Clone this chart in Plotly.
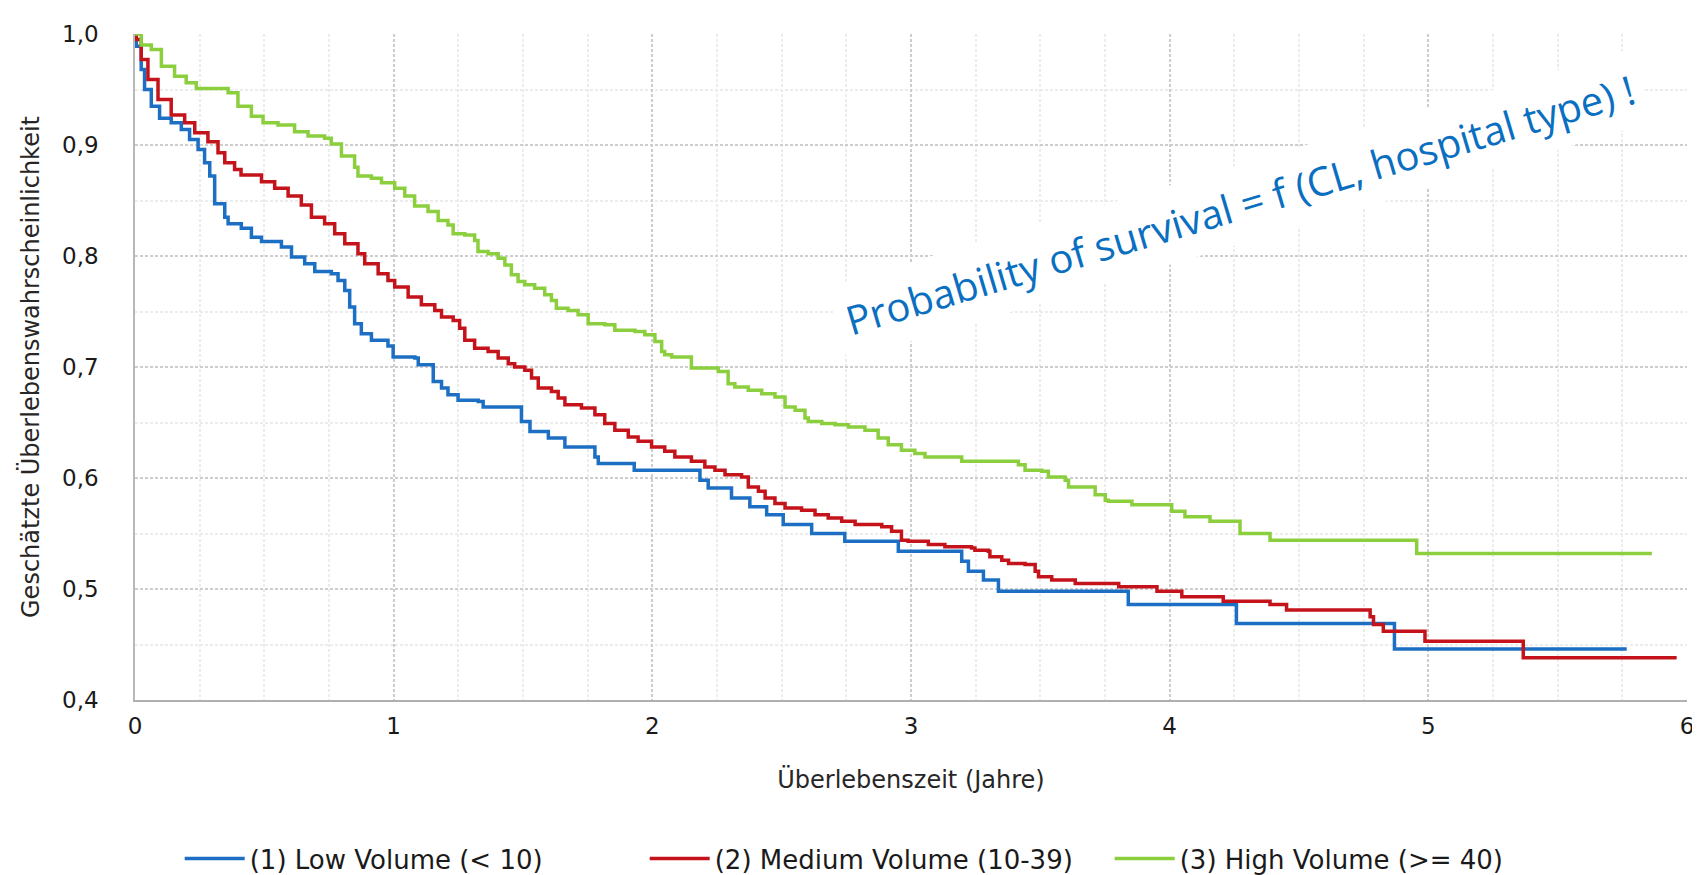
import plotly.graph_objects as go

# ---------------- data ----------------
low_t = [0.000, 0.005, 0.024, 0.037, 0.063, 0.095, 0.140, 0.179, 0.211, 0.244, 0.269, 0.289,
         0.308, 0.347, 0.360, 0.411, 0.450, 0.489, 0.566, 0.605, 0.656, 0.695, 0.759, 0.785,
         0.811, 0.830, 0.849, 0.875, 0.914, 0.978, 0.998, 1.082, 1.095, 1.153, 1.185, 1.210,
         1.249, 1.327, 1.346, 1.494, 1.527, 1.598, 1.662, 1.778, 1.791, 1.930, 2.184, 2.216,
         2.306, 2.377, 2.442, 2.506, 2.616, 2.744, 2.951, 3.196, 3.222, 3.280, 3.338, 3.840,
         4.258, 4.869, 5.767]
low_s = [1.000, 0.989, 0.968, 0.950, 0.935, 0.924, 0.920, 0.914, 0.905, 0.896, 0.884, 0.872,
         0.847, 0.835, 0.829, 0.825, 0.817, 0.813, 0.808, 0.799, 0.793, 0.786, 0.784, 0.778,
         0.769, 0.754, 0.739, 0.730, 0.724, 0.719, 0.709, 0.708, 0.702, 0.687, 0.681, 0.675,
         0.670, 0.669, 0.664, 0.651, 0.642, 0.636, 0.628, 0.619, 0.613, 0.607, 0.598, 0.591,
         0.582, 0.574, 0.567, 0.558, 0.550, 0.543, 0.534, 0.525, 0.516, 0.508, 0.498, 0.486,
         0.469, 0.446, 0.446]

med_t = [0.000, 0.005, 0.024, 0.050, 0.089, 0.140, 0.192, 0.231, 0.282, 0.321, 0.347, 0.385,
         0.410, 0.489, 0.540, 0.592, 0.643, 0.682, 0.733, 0.772, 0.811, 0.862, 0.888, 0.940,
         0.978, 1.004, 1.056, 1.107, 1.159, 1.185, 1.230, 1.255, 1.275, 1.313, 1.365, 1.404,
         1.443, 1.468, 1.507, 1.533, 1.559, 1.610, 1.636, 1.662, 1.726, 1.778, 1.816, 1.855,
         1.907, 1.945, 1.997, 2.048, 2.087, 2.151, 2.203, 2.242, 2.281, 2.345, 2.371, 2.410,
         2.436, 2.474, 2.513, 2.577, 2.629, 2.680, 2.732, 2.784, 2.887, 2.925, 2.963, 2.989,
         3.067, 3.131, 3.234, 3.247, 3.299, 3.305, 3.351, 3.377, 3.441, 3.480, 3.493, 3.544,
         3.635, 3.803, 3.951, 4.047, 4.207, 4.388, 4.452, 4.775, 4.788, 4.826, 4.987, 5.367,
         5.960]
med_s = [1.000, 0.995, 0.977, 0.959, 0.941, 0.927, 0.920, 0.911, 0.903, 0.893, 0.884, 0.878,
         0.873, 0.867, 0.861, 0.854, 0.846, 0.835, 0.829, 0.820, 0.811, 0.802, 0.793, 0.784,
         0.778, 0.772, 0.763, 0.756, 0.751, 0.745, 0.742, 0.735, 0.724, 0.717, 0.714, 0.708,
         0.703, 0.700, 0.697, 0.690, 0.681, 0.678, 0.672, 0.666, 0.663, 0.657, 0.649, 0.643,
         0.637, 0.633, 0.628, 0.624, 0.619, 0.615, 0.610, 0.607, 0.603, 0.601, 0.592, 0.588,
         0.582, 0.577, 0.573, 0.571, 0.567, 0.564, 0.561, 0.558, 0.556, 0.552, 0.544, 0.543,
         0.540, 0.538, 0.537, 0.535, 0.534, 0.529, 0.526, 0.523, 0.522, 0.516, 0.511, 0.508,
         0.505, 0.502, 0.498, 0.493, 0.489, 0.486, 0.481, 0.475, 0.468, 0.462, 0.453, 0.438,
         0.438]

high_t = [0.000, 0.024, 0.063, 0.102, 0.153, 0.198, 0.237, 0.360, 0.398, 0.450, 0.495, 0.553,
          0.617, 0.669, 0.733, 0.759, 0.798, 0.849, 0.862, 0.914, 0.953, 1.004, 1.043, 1.081,
          1.133, 1.172, 1.210, 1.230, 1.275, 1.313, 1.326, 1.365, 1.404, 1.430, 1.455, 1.481,
          1.507, 1.545, 1.584, 1.610, 1.629, 1.674, 1.713, 1.752, 1.816, 1.855, 1.933, 1.971,
          2.010, 2.036, 2.048, 2.075, 2.151, 2.255, 2.293, 2.319, 2.371, 2.423, 2.474, 2.513,
          2.552, 2.590, 2.603, 2.655, 2.707, 2.758, 2.822, 2.873, 2.912, 2.963, 3.015, 3.054,
          3.196, 3.415, 3.441, 3.505, 3.531, 3.596, 3.609, 3.712, 3.751, 3.763, 3.854, 4.008,
          4.059, 4.156, 4.272, 4.388, 4.955, 5.864]
high_s = [1.000, 0.990, 0.986, 0.971, 0.962, 0.956, 0.951, 0.947, 0.935, 0.926, 0.920, 0.918,
          0.912, 0.908, 0.906, 0.901, 0.890, 0.880, 0.872, 0.870, 0.866, 0.861, 0.854, 0.845,
          0.840, 0.832, 0.828, 0.820, 0.819, 0.814, 0.804, 0.802, 0.798, 0.792, 0.783, 0.777,
          0.774, 0.771, 0.765, 0.760, 0.753, 0.751, 0.747, 0.739, 0.738, 0.733, 0.732, 0.729,
          0.723, 0.714, 0.711, 0.709, 0.699, 0.696, 0.685, 0.682, 0.679, 0.676, 0.673, 0.664,
          0.661, 0.654, 0.651, 0.649, 0.648, 0.646, 0.643, 0.636, 0.630, 0.625, 0.622, 0.619,
          0.615, 0.612, 0.607, 0.606, 0.601, 0.598, 0.592, 0.585, 0.580, 0.579, 0.576, 0.570,
          0.565, 0.561, 0.550, 0.544, 0.532, 0.532]

series_names = ["(1) Low Volume (< 10)", "(2) Medium Volume (10-39)", "(3) High Volume (>= 40)"]
series_colors = ["#1c6fc2", "#c4131b", "#8ccf3e"]

x_ticks = [0, 1, 2, 3, 4, 5, 6]
y_ticks = [0.4, 0.5, 0.6, 0.7, 0.8, 0.9, 1.0]
y_ticktext = ["0,4", "0,5", "0,6", "0,7", "0,8", "0,9", "1,0"]

x_title = "Überlebenszeit (Jahre)"
y_title = "Geschätzte Überlebenswahrscheinlichkeit"
note_text = "Probability of survival = f (CL, hospital type) !"

# ---------------- figure ----------------
FONT = "DejaVu Sans"
fig = go.Figure()
for t, s, name, col in zip([low_t, med_t, high_t], [low_s, med_s, high_s],
                           series_names, series_colors):
    fig.add_trace(go.Scatter(x=t, y=s, mode="lines", name=name,
                             line=dict(color=col, width=3.5, shape="hv")))

major_grid = "#cdcdcd"
minor_grid = "#ececec"

fig.update_xaxes(range=[0, 6], tickvals=x_ticks, ticks="", showline=True,
                 linecolor="#b0b0b0", linewidth=2,
                 showgrid=True, gridcolor=major_grid, gridwidth=1.5, griddash="3px,2px",
                 minor=dict(dtick=0.25, showgrid=True, gridcolor=minor_grid, gridwidth=1.5),
                 zeroline=False, ticklabelstandoff=4,
                 tickfont=dict(family=FONT, size=23, color="#1a1a1a"),
                 title=dict(text=x_title, font=dict(family=FONT, size=24, color="#262626"),
                            standoff=34))
fig.update_yaxes(range=[0.4, 1.0], tickvals=y_ticks, ticktext=y_ticktext, ticks="",
                 showline=True, linecolor="#b8b8b8", linewidth=1.5,
                 showgrid=True, gridcolor=major_grid, gridwidth=1.5, griddash="3px,2px",
                 minor=dict(dtick=0.05, showgrid=True, gridcolor=minor_grid, gridwidth=1.5),
                 zeroline=False, ticklabelstandoff=30,
                 tickfont=dict(family=FONT, size=23, color="#1a1a1a"),
                 title=dict(text=y_title, font=dict(family=FONT, size=24, color="#262626"),
                            standoff=16))

fig.add_annotation(x=4.27, y=0.846, xref="x", yref="y", text=note_text,
                   showarrow=False, textangle=-16.5,
                   font=dict(family="Open Sans", size=40, color="#0a6fc0"),
                   bgcolor="white", borderpad=10)

fig.update_layout(
    width=1700, height=875,
    margin=dict(l=127, r=21, t=26, b=183, autoexpand=False),
    paper_bgcolor="white", plot_bgcolor="white",
    showlegend=True,
    legend=dict(orientation="h", xref="container", yref="container",
                x=0.101, xanchor="left", y=0.028, yanchor="middle",
                font=dict(family=FONT, size=26, color="#1a1a1a"),
                itemwidth=60, entrywidth=390, entrywidthmode="pixels",
                tracegroupgap=0),
)

fig.write_html("out.html")
